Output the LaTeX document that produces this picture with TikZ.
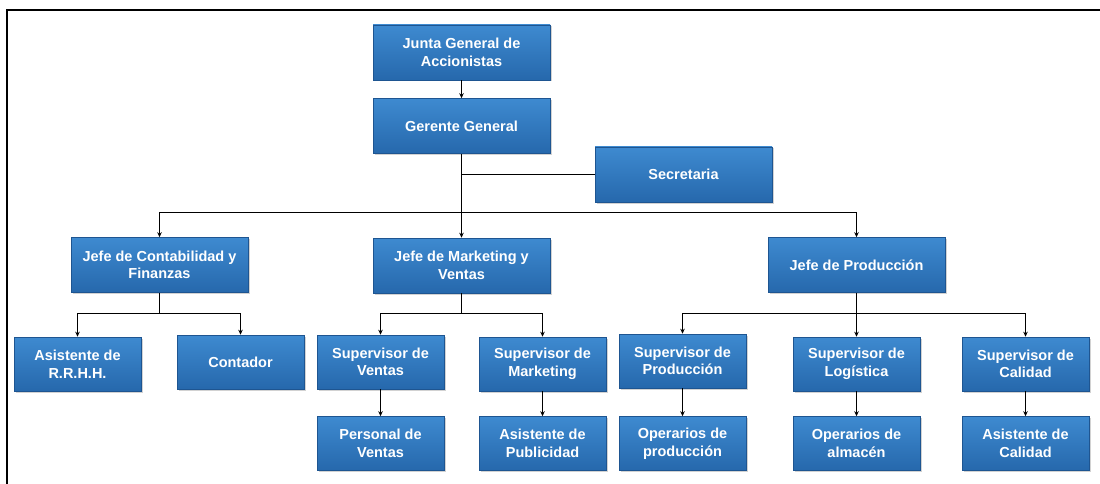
\documentclass[tikz,border=0pt]{standalone}
\usepackage{fontspec}
\setmainfont{Liberation Sans}
\usetikzlibrary{arrows.meta,shadows}
\definecolor{boxtop}{RGB}{62,138,208}
\definecolor{boxbot}{RGB}{38,104,172}
\definecolor{boxedge}{RGB}{30,85,145}
\tikzset{
  orgbox/.style={draw=boxedge, line width=0.6pt, top color=boxtop, bottom color=boxbot,
    text=white, align=center, inner sep=2pt,
    font=\fontsize{14.5}{17.5}\selectfont\bfseries,
    drop shadow={opacity=0.35, shadow xshift=1.5pt, shadow yshift=-1.5pt}},
  bigbox/.style={orgbox, minimum width=177pt, minimum height=55pt},
  smallbox/.style={orgbox, minimum width=127pt, minimum height=54pt},
  conn/.style={draw=black, line width=1.1pt},
  arr/.style={conn, -{Stealth[length=5pt,width=4.5pt]}}
}
\begin{document}
\begin{tikzpicture}[x=1pt,y=-1pt]
\useasboundingbox (0,0) rectangle (1100,484);
\fill[white] (0,0) rectangle (1100,484);
\draw[line width=1.6pt] (1100,10) -- (7,10) -- (7,484);

\node[bigbox] (junta) at (461.5,52.5) {Junta General de\\Accionistas};
\node[bigbox] (gerente) at (461.5,126) {Gerente General};
\node[bigbox] (secretaria) at (683.5,174.5) {Secretaria};
\node[bigbox] (jcf) at (159.5,265) {Jefe de Contabilidad y\\Finanzas};
\node[bigbox] (jmv) at (461.5,265.5) {Jefe de Marketing y\\Ventas};
\node[bigbox] (jp) at (856.5,265) {Jefe de Producción};

\node[smallbox] (arh) at (77.5,364) {Asistente de\\R.R.H.H.};
\node[smallbox] (cont) at (240.5,362) {Contador};
\node[smallbox] (sv) at (380.5,362) {Supervisor de\\Ventas};
\node[smallbox] (sm) at (542.5,364) {Supervisor de\\Marketing};
\node[smallbox] (sp) at (682.5,361) {Supervisor de\\Producción};
\node[smallbox] (sl) at (856.5,364) {Supervisor de\\Logística};
\node[smallbox] (sc) at (1025.5,364) {Supervisor de\\Calidad};

\node[smallbox] (pv) at (380.5,443.5) {Personal de\\Ventas};
\node[smallbox] (ap) at (542.5,443.5) {Asistente de\\Publicidad};
\node[smallbox] (op) at (682.5,443.5) {Operarios de\\producción};
\node[smallbox] (oa) at (856.5,443.5) {Operarios de\\almacén};
\node[smallbox] (ac) at (1025.5,443.5) {Asistente de\\Calidad};

\draw[arr] (junta) -- (gerente);
\draw[conn] (gerente.south |- secretaria.west) -- (secretaria.west);
\draw[arr] (gerente.south) -- (gerente.south |- 0,212.5) -| (jcf.north);
\draw[arr] (gerente.south) -- (jmv.north);
\draw[arr] (gerente.south |- 0,212.5) -| (jp.north);

\draw[arr] (jcf.south) -- (jcf.south |- 0,313.5) -| (arh.north);
\draw[arr] (jcf.south |- 0,313.5) -| (cont.north);

\draw[arr] (jmv.south) -- (jmv.south |- 0,313.5) -| (sv.north);
\draw[arr] (jmv.south |- 0,313.5) -| (sm.north);

\draw[arr] (jp.south) -- (sl.north);
\draw[arr] (jp.south |- 0,313.5) -| (sp.north);
\draw[arr] (jp.south |- 0,313.5) -| (sc.north);

\draw[arr] (sv) -- (pv);
\draw[arr] (sm) -- (ap);
\draw[arr] (sp) -- (op);
\draw[arr] (sl) -- (oa);
\draw[arr] (sc) -- (ac);
\end{tikzpicture}
\end{document}
